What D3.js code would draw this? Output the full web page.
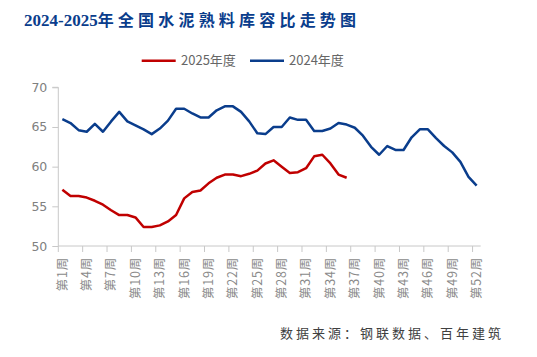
<!DOCTYPE html>
<html><head><meta charset="utf-8">
<script src="https://cdn.jsdelivr.net/npm/d3@7"></script>
<style>body{margin:0;background:#fff}svg{display:block}</style>
</head><body>
<svg id="c" width="537" height="357"></svg>
<script>
const weeks = d3.range(1, 53).map(i => "第" + i + "周");
const tickWeeks = [1,4,7,10,13,16,19,22,25,28,31,34,37,40,43,46,49,52];
const yTicks = [50,55,60,65,70];
const series2025 = [57.1,56.3,56.3,56.1,55.7,55.2,54.5,53.9,53.9,53.6,52.4,52.4,52.6,53.1,53.9,56.0,56.8,57.0,57.9,58.6,59.0,59.0,58.8,59.1,59.5,60.4,60.8,60.0,59.2,59.3,59.8,61.3,61.5,60.4,59.0,58.6];
const series2024 = [66.0,65.5,64.6,64.4,65.4,64.4,65.7,66.9,65.7,65.2,64.7,64.1,64.8,65.8,67.3,67.3,66.7,66.2,66.2,67.1,67.6,67.6,66.9,65.7,64.2,64.1,65.0,65.0,66.2,65.9,65.9,64.5,64.5,64.8,65.5,65.3,64.9,63.9,62.5,61.5,62.6,62.1,62.1,63.7,64.7,64.7,63.6,62.6,61.8,60.6,58.7,57.6];
const seriesNames = ["2025年度","2024年度"];
const colors = ["#c00000","#0a3d8c"];

const svg = d3.select("#c");
const m = {l:58.3, r:480.7, t:87.3, b:246};
const x = d3.scaleBand().domain(weeks).range([m.l, m.r]).padding(0);
const y = d3.scaleLinear().domain([50,70]).range([m.b, m.t]);

// title
const title = svg.append("text").attr("x",24).attr("y",26)
  .attr("font-family","'Liberation Serif','Noto Sans CJK SC',serif").attr("font-weight","bold")
  .attr("font-size",17).attr("fill","#0a3d8c");
title.append("tspan").text("2024-2025");
title.append("tspan").attr("font-family","'Noto Sans CJK SC'").attr("font-size",16).attr("letter-spacing",4.2).text("年全国水泥熟料库容比走势图");

// legend
const lg = [{x:141.7, tx:181},{x:250, tx:289}];
seriesNames.forEach((n,i)=>{
  svg.append("line").attr("x1",lg[i].x).attr("x2",lg[i].x+34).attr("y1",60.7).attr("y2",60.7)
    .attr("stroke",colors[i]).attr("stroke-width",2.5);
  svg.append("text").attr("x",lg[i].tx).attr("y",65.3).attr("font-family","'Noto Sans CJK SC'")
    .attr("font-size",13).attr("fill","#666").text(n);
});

// y axis
const ya = svg.append("g").attr("transform",`translate(${m.l},0)`)
  .call(d3.axisLeft(y).tickValues(yTicks).tickSize(6).tickPadding(5).tickFormat(d3.format("d")));
ya.select(".domain").attr("stroke","#c8c8c8").attr("d",`M-6,${m.t}H0V${m.b}`);
ya.selectAll(".tick line").attr("stroke","#c8c8c8");
ya.selectAll(".tick text").attr("font-family","'DejaVu Sans',sans-serif").attr("font-size",12.5).attr("fill","#808080");

// x axis
const xa = svg.append("g").attr("transform",`translate(0,${m.b})`)
  .call(d3.axisBottom(x).tickValues(tickWeeks.map(w=>weeks[w-1])).tickSize(0).tickPadding(0));
xa.select(".domain").attr("stroke","#c8c8c8").attr("d",`M${m.l},0H${m.r}`);
xa.selectAll(".tick line").remove();
tickWeeks.forEach(w=>{
  const bx = x(weeks[w-1]);
  xa.append("line").attr("x1",bx).attr("x2",bx).attr("y1",0).attr("y2",6).attr("stroke","#c8c8c8");
});
xa.selectAll(".tick text").attr("transform","rotate(-90)").attr("text-anchor","end")
  .attr("x",-11).attr("y",0).attr("dy","0.35em")
  .attr("font-family","'Noto Sans CJK SC'").attr("font-size",12.5).attr("letter-spacing",0.8).attr("fill","#8a8a8a");

// lines
const line = d3.line().x((d,i)=>x(weeks[i])+x.bandwidth()/2).y(d=>y(d)).curve(d3.curveLinear);
[series2025, series2024].forEach((s,i)=>{
  svg.append("path").datum(s).attr("d",line).attr("fill","none")
    .attr("stroke",colors[i]).attr("stroke-width",2.5).attr("stroke-linejoin","round");
});

// footer
svg.append("text").attr("x",280).attr("y",338).attr("font-family","'Noto Sans CJK SC'")
  .attr("font-size",13).attr("letter-spacing",3).attr("fill","#404040").text("数据来源：钢联数据、百年建筑");
</script>
</body></html>
